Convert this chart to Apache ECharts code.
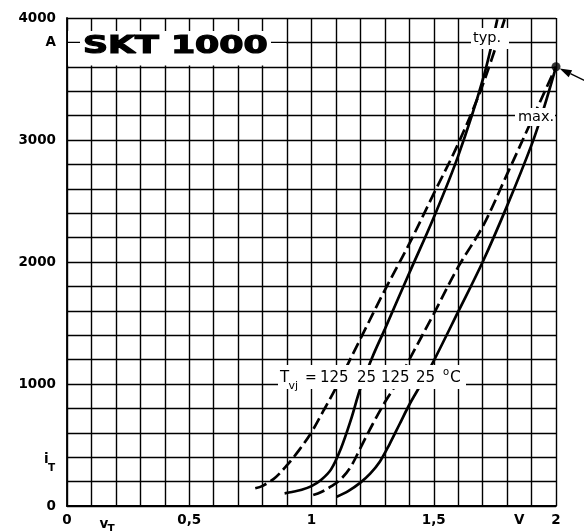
<!DOCTYPE html>
<html>
<head>
<meta charset="utf-8">
<script src="https://cdn.jsdelivr.net/npm/echarts@6/dist/echarts.min.js"></script>
<style>
  html, body { margin: 0; padding: 0; background: #fff; }
  #chart { width: 584px; height: 531px; }
</style>
</head>
<body>
<div id="chart"></div>
<script>
// On-state characteristic i_T = f(v_T) of the SKT 1000 thyristor.
// Solid: Tvj = 25 °C, dashed: Tvj = 125 °C; left pair typical, right pair maximum.
const typ125 = [[0.77,145],[0.80,165],[0.85,230],[0.90,335],[0.95,460],[1.0,605],[1.05,785],[1.10,970],[1.2,1370],[1.3,1770],[1.4,2150],[1.5,2560],[1.6,2970],[1.7,3450],[1.79,3990]];
const typ25 = [[0.89,104],[0.92,115],[0.96,133],[1.0,163],[1.04,215],[1.08,300],[1.12,470],[1.16,700],[1.20,965],[1.25,1225],[1.30,1450],[1.40,1910],[1.50,2365],[1.60,2870],[1.70,3490],[1.76,3990]];
const max125 = [[1.007,90],[1.04,115],[1.08,160],[1.12,220],[1.16,320],[1.20,475],[1.25,670],[1.30,850],[1.35,1010],[1.40,1200],[1.50,1575],[1.60,1960],[1.70,2290],[1.80,2720],[1.90,3160],[2.0,3600]];
const max25 = [[1.103,76],[1.15,122],[1.20,192],[1.24,265],[1.28,365],[1.32,510],[1.36,670],[1.40,830],[1.45,1005],[1.50,1190],[1.60,1593],[1.70,2000],[1.80,2460],[1.90,2960],[1.95,3260],[2.0,3600]];
const ratedPoint = [2.0, 3600];

// Axis label positions and texts; entries with a subscript are [main, subscript]
const xLabelValues = [0, 0.17, 0.5, 1, 1.5, 1.85, 2];
const xLabelTexts = ['0', ['v', 'T'], '0,5', '1', '1,5', 'V', '2'];
const yLabelValues = [0, 400, 1000, 2000, 3000, 3800, 4000];
const yLabelTexts = ['0', ['i', 'T'], '1000', '2000', '3000', 'A', '4000'];

const FONT = 'DejaVu Sans';

function labelFor(values, texts) {
  return function (v) {
    for (let i = 0; i < values.length; i++) {
      if (Math.abs(values[i] - v) < 1e-6) return typeof texts[i] === 'string' ? texts[i] : '';
    }
    return '';
  };
}

const gridLine = { show: true, lineStyle: { color: '#000', width: 1.4 } };

function curve(name, data, dashed) {
  return {
    name: name,
    type: 'line',
    data: data,
    smooth: 0.35,
    showSymbol: false,
    z: 5,
    lineStyle: { color: '#000', width: 2.7, type: dashed ? [12, 5] : 'solid', cap: 'butt' }
  };
}

const labelFont = { color: '#000', fontFamily: FONT, fontWeight: 'bold', fontSize: 13.5 };

const chart = echarts.init(document.getElementById('chart'), null, { renderer: 'canvas' });

chart.setOption({
  animation: false,
  backgroundColor: '#fff',
  grid: { left: 67, right: 28, top: 18, bottom: 25 },
  xAxis: {
    type: 'value', min: 0, max: 2, interval: 0.1,
    axisLine: { show: true, lineStyle: { color: '#000', width: 1.8 } },
    axisTick: { show: false },
    splitLine: gridLine,
    axisLabel: Object.assign({
      customValues: xLabelValues,
      formatter: labelFor(xLabelValues, xLabelTexts),
      margin: 7
    }, labelFont)
  },
  yAxis: {
    type: 'value', min: 0, max: 4000, interval: 200,
    axisLine: { show: true, lineStyle: { color: '#000', width: 1.8 } },
    axisTick: { show: false },
    splitLine: gridLine,
    axisLabel: Object.assign({
      customValues: yLabelValues,
      formatter: labelFor(yLabelValues, yLabelTexts),
      margin: 11
    }, labelFont)
  },
  series: [
    curve('typ 125', typ125, true),
    curve('typ 25', typ25, false),
    curve('max 125', max125, true),
    curve('max 25', max25, false),
    {
      name: 'rated', type: 'scatter', data: [ratedPoint], symbolSize: 9, clip: false, z: 6,
      itemStyle: { color: '#000' }
    }
  ]
});

// Annotations: title, curve tags, subscripted axis symbols and the arrow at the rated point
const toPx = (pt) => chart.convertToPixel({ gridIndex: 0 }, pt);
const p = toPx(ratedPoint);
const y3800 = toPx([0, 3800])[1];
const origin = toPx([0, 0]);
const left = origin[0], bottom = origin[1];

const ang = Math.atan2(13, 27);
const tipX = p[0] + 4 * Math.cos(ang), tipY = p[1] + 4 * Math.sin(ang);
const headLen = 12, headW = 4;
const bx = tipX + headLen * Math.cos(ang), by = tipY + headLen * Math.sin(ang);
const nx = -Math.sin(ang) * headW, ny = Math.cos(ang) * headW;

const txt = (text, x, y, size, extra) => ({
  type: 'text', x: x, y: y, z: 60,
  style: Object.assign({ text: text, fontFamily: FONT, fontSize: size, fill: '#000',
                         verticalAlign: 'middle', align: 'left' }, extra || {})
});

const symbolLabels = [];
xLabelTexts.forEach((t, i) => {
  if (typeof t === 'string') return;
  const x = toPx([xLabelValues[i], 0])[0];
  symbolLabels.push(txt(t[0], x - 9, bottom + 18, 13.5, { fontWeight: 'bold' }));
  symbolLabels.push(txt(t[1], x - 1, bottom + 23, 10.5, { fontWeight: 'bold' }));
});
yLabelTexts.forEach((t, i) => {
  if (typeof t === 'string') return;
  const y = toPx([0, yLabelValues[i]])[1];
  symbolLabels.push(txt(t[0], left - 23, y + 2, 13.5, { fontWeight: 'bold' }));
  symbolLabels.push(txt(t[1], left - 19, y + 11, 10.5, { fontWeight: 'bold' }));
});

chart.setOption({
  graphic: [
    // title block
    { type: 'rect', z: 50, shape: { x: left + 1, y: 31, width: 218, height: 34.5 }, style: { fill: '#fff' } },
    { type: 'line', z: 51, shape: { x1: left, y1: y3800, x2: left + 219, y2: y3800 }, style: { stroke: '#000', lineWidth: 1.4 } },
    { type: 'rect', z: 52, shape: { x: 80, y: 33, width: 191, height: 28 }, style: { fill: '#fff' } },
    { type: 'text', z: 60, x: 83, y: 47, scaleX: 1.45,
      style: { text: 'SKT 1000', fontFamily: FONT, fontWeight: 'bold', fontSize: 24, fill: '#000',
               stroke: '#000', lineWidth: 1.2, verticalAlign: 'middle', align: 'left' } },

    // typ. / max. tags
    { type: 'rect', z: 55, shape: { x: 471, y: 28, width: 38, height: 21 }, style: { fill: '#fff' } },
    txt('typ.', 473, 38, 14.5),
    { type: 'rect', z: 55, shape: { x: 515, y: 108, width: 40, height: 18 }, style: { fill: '#fff' } },
    txt('max.', 518, 117, 14.5),

    // temperature legend along the 1000 A line
    { type: 'rect', z: 55, shape: { x: 278, y: 365, width: 188, height: 24 }, style: { fill: '#fff' } },
    txt('T', 280, 378, 15),
    txt('vj', 288.5, 386, 11),
    txt('=', 305, 378, 14),
    txt('125', 320, 378, 15),
    txt('25', 357, 378, 15),
    txt('125', 381, 378, 15),
    txt('25', 416, 378, 15),
    txt('o', 443, 372, 10),
    txt('C', 450, 378, 15.5),

    // arrow
    { type: 'line', z: 60, shape: { x1: bx, y1: by, x2: 600, y2: tipY + (600 - tipX) * Math.tan(ang) },
      style: { stroke: '#000', lineWidth: 1.4 } },
    { type: 'polygon', z: 60,
      shape: { points: [[tipX, tipY], [bx + nx, by + ny], [bx - nx, by - ny]] },
      style: { fill: '#000' } }
  ].concat(symbolLabels)
});
</script>
</body>
</html>
